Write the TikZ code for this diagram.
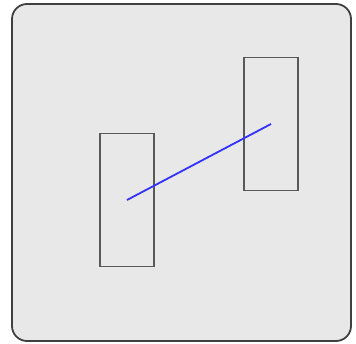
\documentclass[tikz,border=0pt]{standalone}
\definecolor{linkblue}{RGB}{50,50,250}
\begin{document}
\begin{tikzpicture}[x=1pt,y=-1pt,
  panel/.style={draw=black!75,line width=1.8pt,fill=black!9,rounded corners=15pt},
  box/.style={draw=black!65,line width=1.4pt,minimum width=54pt,minimum height=133pt,inner sep=0pt},
  link/.style={draw=linkblue,line width=1.8pt}]
\useasboundingbox (0,0) rectangle (356,344);
\draw[panel] (12,4) rectangle (351,341);
\node[box] (a) at (127,200) {};
\node[box] (b) at (271,124) {};
\draw[link] (a.center) -- (b.center);
\end{tikzpicture}
\end{document}
